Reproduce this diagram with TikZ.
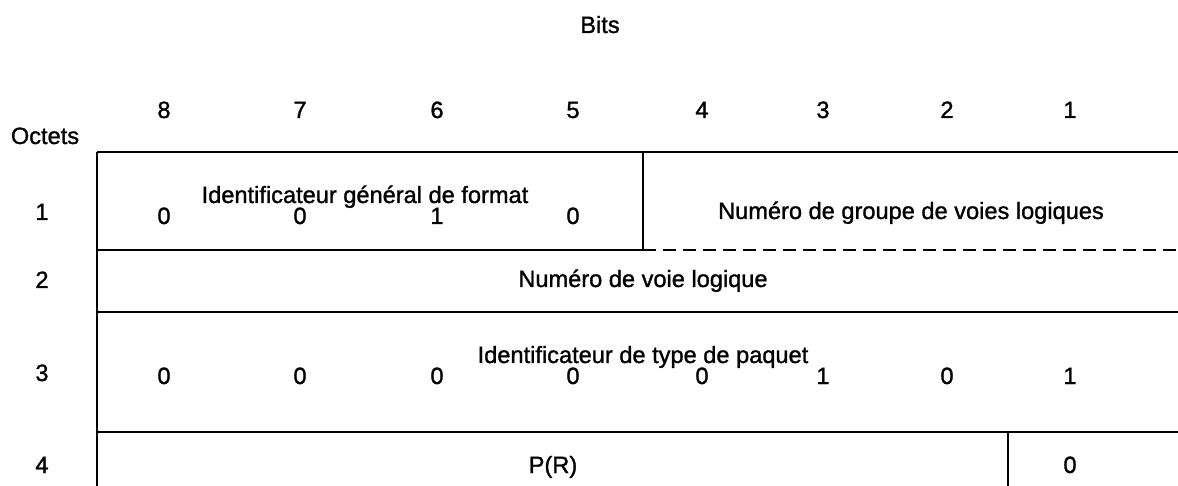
\documentclass[tikz,border=0pt]{standalone}
\usepackage{fontspec}
\setmainfont{Liberation Sans}[FakeBold=1.2]
\begin{document}
\begin{tikzpicture}[x=0.5pt,y=-0.5pt,
  lbl/.style={font=\fontsize{11.8}{13}\selectfont, inner sep=0pt, anchor=base},
  rule/.style={line width=0.75pt}]
\useasboundingbox (0,0) rectangle (1178,486);
% header
\node[lbl] (bits) at (600,33) {Bits};
\node[lbl] (octets) at (45,144) {Octets};
\foreach \n/\x in {8/164,7/300,6/437,5/573,4/702,3/823,2/947,1/1070}
  \node[lbl] (c\n) at (\x,118) {\n};
% row numbers
\node[lbl] (r1) at (42,220) {1};
\node[lbl] (r2) at (42,288) {2};
\node[lbl] (r3) at (42,381) {3};
\node[lbl] (r4) at (42,473) {4};
% grid
\coordinate (tl) at (97,152);
\coordinate (bl) at (97,486);
\draw[rule] (tl) -- (bl);
\draw[rule] (tl) -- (1178,152);
\coordinate (sp) at (643,152);
\coordinate (sb) at (643,250);
\draw[rule] (sp) -- (sb);
\draw[rule] (97,250) -- (sb);
\draw[rule, dash pattern=on 6.5pt off 3.5pt] (sb) -- (1178,250);
\draw[rule] (97,312) -- (1178,312);
\draw[rule] (97,432) -- (1178,432);
\draw[rule] (1008,432) -- (1008,486);
% row 1
\node[lbl] (igf) at (365,203) {Identificateur général de format};
\foreach \v/\x [count=\i] in {0/164,0/300,1/437,0/573}
  \node[lbl] (a\i) at (\x,224) {\v};
\node[lbl] (ngv) at (911,219) {Numéro de groupe de voies logiques};
% row 2
\node[lbl] (nvl) at (643,287) {Numéro de voie logique};
% row 3
\node[lbl] (itp) at (643,363) {Identificateur de type de paquet};
\foreach \v/\x [count=\i] in {0/164,0/300,0/437,0/573,0/702,1/823,0/947,1/1070}
  \node[lbl] (b\i) at (\x,384) {\v};
% row 4
\node[lbl] (pr) at (553,473) {P(R)};
\node[lbl] (z) at (1070,473) {0};
\end{tikzpicture}
\end{document}
